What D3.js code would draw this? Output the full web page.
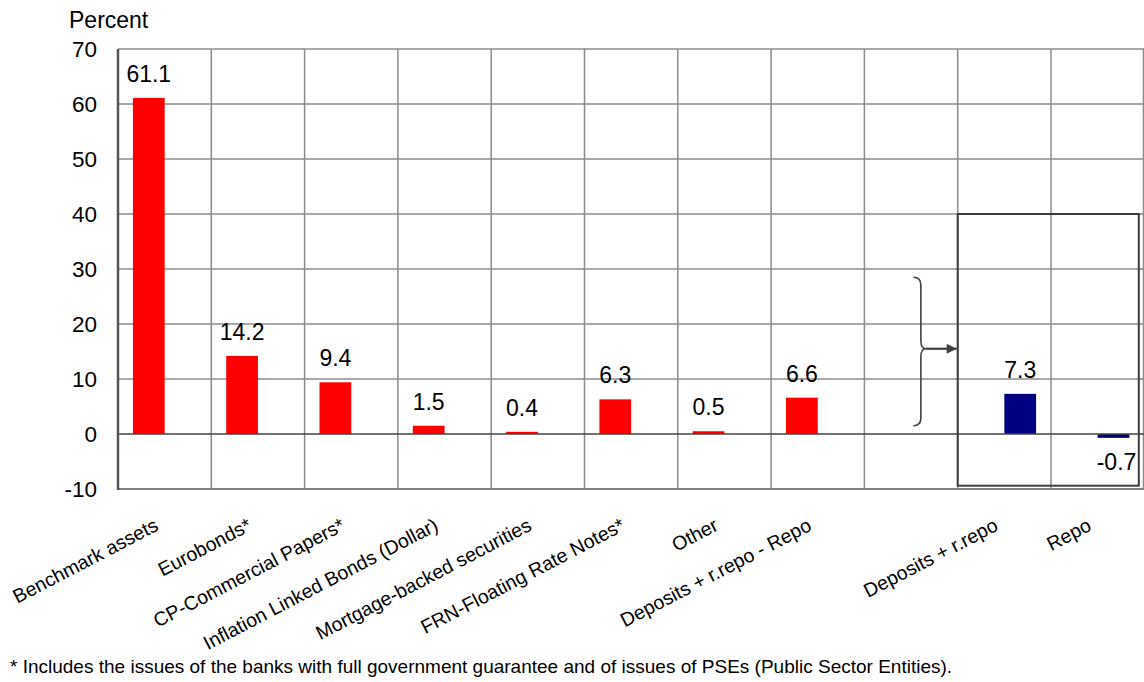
<!DOCTYPE html>
<html>
<head>
<meta charset="utf-8">
<script src="https://cdn.jsdelivr.net/npm/d3@7/dist/d3.min.js"></script>
<style>
  html, body { margin: 0; padding: 0; background: #fff; }
  svg { display: block; }
  text { font-family: "Liberation Sans", Arial, sans-serif; fill: #000; }
</style>
</head>
<body>
<svg id="chart" width="1144" height="682"></svg>
<script>
// Categories along the horizontal axis (one empty slot separates the two groups)
const categories = [
  "Benchmark assets",
  "Eurobonds*",
  "CP-Commercial Papers*",
  "Inflation Linked Bonds (Dollar)",
  "Mortgage-backed securities",
  "FRN-Floating Rate Notes*",
  "Other",
  "Deposits + r.repo - Repo",
  "",
  "Deposits + r.repo",
  "Repo"
];

// Breakdown of the portfolio (red bars), percent
const breakdownValues = [61.1, 14.2, 9.4, 1.5, 0.4, 6.3, 0.5, 6.6, null, null, null];
// Detail of deposits and repo (navy bars), percent
const depositValues = [null, null, null, null, null, null, null, null, null, 7.3, -0.7];

const seriesKeys = ["breakdown", "deposits"];
const seriesColors = { breakdown: "#ff0000", deposits: "#000080" };

const yTicks = [-10, 0, 10, 20, 30, 40, 50, 60, 70];
const yDomain = [-10, 70];

const footnote = "* Includes the issues of the banks with full government guarantee and of issues of PSEs (Public Sector Entities).";

// Bracket + framed range highlighting the deposits breakdown (value units)
const bracketRange = { top: 28.5, mid: 15.5, bottom: 1.5 };
const frameRange = { top: 40, bottom: -9.4 };

// Plain hyphen for negative numbers
const fmtTick = d => String(d);
const fmtValue = d => d.toFixed(1);

const svg = d3.select("#chart");

const plot = { left: 118, right: 1144.3, top: 49, bottom: 489 };

const x0 = d3.scaleBand()
  .domain(d3.range(categories.length))
  .range([plot.left, plot.right])
  .padding(0);

const x1 = d3.scaleBand()
  .domain(seriesKeys)
  .range([0, x0.bandwidth()])
  .paddingInner(0)
  .paddingOuter(0.47);

const y = d3.scaleLinear().domain(yDomain).range([plot.bottom, plot.top]);

// Horizontal gridlines
svg.append("g")
  .selectAll("line")
  .data(yTicks.filter(t => t !== 0 && t !== yDomain[0]))
  .join("line")
  .attr("x1", plot.left).attr("x2", plot.right)
  .attr("y1", d => y(d)).attr("y2", d => y(d))
  .attr("stroke", "#8c8c8c").attr("stroke-width", 1.5);

// Vertical gridlines at category boundaries
svg.append("g")
  .selectAll("line")
  .data(d3.range(1, categories.length + 1))
  .join("line")
  .attr("x1", i => Math.min(x0.step() * i + plot.left, 1143.5))
  .attr("x2", i => Math.min(x0.step() * i + plot.left, 1143.5))
  .attr("y1", plot.top).attr("y2", plot.bottom)
  .attr("stroke", "#8c8c8c").attr("stroke-width", 1.5);

// Bottom edge of the plot
svg.append("line")
  .attr("x1", plot.left).attr("x2", plot.right)
  .attr("y1", y(yDomain[0])).attr("y2", y(yDomain[0]))
  .attr("stroke", "#7f7f7f").attr("stroke-width", 2);

// Bars
const barData = [];
categories.forEach((c, i) => {
  if (breakdownValues[i] != null) barData.push({ i, key: "breakdown", v: breakdownValues[i] });
  if (depositValues[i] != null) barData.push({ i, key: "deposits", v: depositValues[i] });
});

svg.append("g")
  .selectAll("rect")
  .data(barData)
  .join("rect")
  .attr("x", d => x0(d.i) + x1(d.key))
  .attr("width", x1.bandwidth())
  .attr("y", d => y(Math.max(0, d.v)))
  .attr("height", d => Math.abs(y(d.v) - y(0)))
  .attr("fill", d => seriesColors[d.key]);

// Zero line
svg.append("line")
  .attr("x1", plot.left).attr("x2", plot.right)
  .attr("y1", y(0)).attr("y2", y(0))
  .attr("stroke", "#444").attr("stroke-width", 1.5);

// Left axis line
svg.append("line")
  .attr("x1", plot.left).attr("x2", plot.left)
  .attr("y1", plot.top).attr("y2", plot.bottom + 1)
  .attr("stroke", "#555").attr("stroke-width", 2.5);

// Y axis tick labels
const yAxis = d3.axisLeft(y).tickValues(yTicks).tickSize(0).tickPadding(21).tickFormat(fmtTick);
const yAxisG = svg.append("g").attr("transform", `translate(${plot.left},0)`).call(yAxis);
yAxisG.select(".domain").remove();
yAxisG.selectAll("text")
  .attr("font-family", "Liberation Sans, Arial, sans-serif")
  .attr("font-size", 22.5)
  .attr("fill", "#000");

// Unit label
svg.append("text")
  .attr("x", 69).attr("y", 28)
  .attr("font-size", 23)
  .text("Percent");

// Value labels
svg.append("g")
  .selectAll("text")
  .data(barData)
  .join("text")
  .attr("x", d => x0(d.i) + x1(d.key) + x1.bandwidth() / 2 + (d.v < 0 ? 3 : 0))
  .attr("y", d => d.v >= 0 ? y(d.v) - 16 : y(d.v) + 32)
  .attr("text-anchor", "middle")
  .attr("font-size", 23)
  .text(d => fmtValue(d.v));

// Category labels, rotated
svg.append("g")
  .selectAll("text")
  .data(categories.map((c, i) => ({ c, i })).filter(d => d.c))
  .join("text")
  .attr("transform", d => `translate(${x0(d.i) + x0.bandwidth() / 2 - 5},529.6) rotate(-27.5)`)
  .attr("text-anchor", "end")
  .attr("font-size", 19.5)
  .text(d => d.c);

// Frame around the deposits detail
const frameLeft = x0(9);
const frameRight = x0(10) + x0.bandwidth() - 5.5;
svg.append("rect")
  .attr("x", frameLeft).attr("y", y(frameRange.top))
  .attr("width", frameRight - frameLeft)
  .attr("height", y(frameRange.bottom) - y(frameRange.top))
  .attr("fill", "none")
  .attr("stroke", "#3c3c3c").attr("stroke-width", 2);

// Curly bracket with arrow pointing into the frame
const bx = x0(8) + x0.bandwidth() * 0.525;   // outer tips of the bracket
const bm = bx + 7.5;                          // spine
const bt = bm + 5;                            // point
const yT = y(bracketRange.top), yM = y(bracketRange.mid), yB = y(bracketRange.bottom);
const r = 8;
svg.append("path")
  .attr("d", `M${bx},${yT} Q${bm},${yT} ${bm},${yT + r} L${bm},${yM - r} Q${bm},${yM} ${bt},${yM}
              M${bt},${yM} Q${bm},${yM} ${bm},${yM + r} L${bm},${yB - r} Q${bm},${yB} ${bx},${yB}`)
  .attr("fill", "none").attr("stroke", "#404040").attr("stroke-width", 1.6);

svg.append("defs").append("marker")
  .attr("id", "arrowhead")
  .attr("viewBox", "0 0 10 10")
  .attr("refX", 10).attr("refY", 5)
  .attr("markerWidth", 12).attr("markerHeight", 10)
  .attr("markerUnits", "userSpaceOnUse")
  .attr("orient", "auto")
  .append("path").attr("d", "M0,0 L10,5 L0,10 Z").attr("fill", "#404040");

svg.append("line")
  .attr("x1", bt).attr("y1", yM)
  .attr("x2", frameLeft - 1).attr("y2", yM)
  .attr("stroke", "#404040").attr("stroke-width", 2.2)
  .attr("marker-end", "url(#arrowhead)");

// Footnote
svg.append("text")
  .attr("x", 10).attr("y", 673)
  .attr("font-size", 19)
  .text(footnote);
</script>
</body>
</html>
